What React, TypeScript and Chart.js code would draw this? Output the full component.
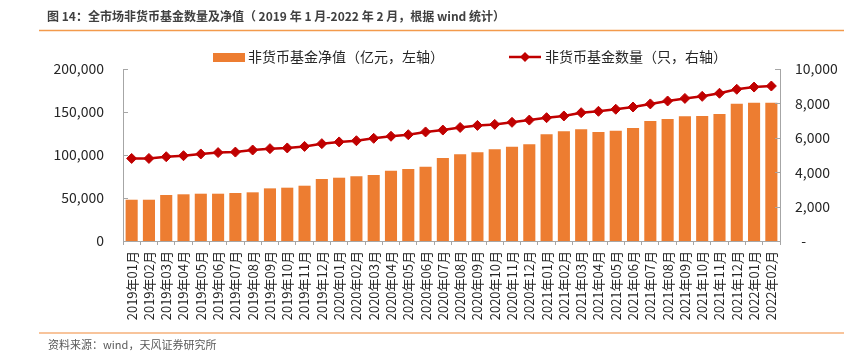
import React, { useEffect, useRef } from "react";
import { Chart, registerables } from "chart.js";

Chart.register(...registerables);

const categories = [
  "2019年01月", "2019年02月", "2019年03月", "2019年04月", "2019年05月", "2019年06月",
  "2019年07月", "2019年08月", "2019年09月", "2019年10月", "2019年11月", "2019年12月",
  "2020年01月", "2020年02月", "2020年03月", "2020年04月", "2020年05月", "2020年06月",
  "2020年07月", "2020年08月", "2020年09月", "2020年10月", "2020年11月", "2020年12月",
  "2021年01月", "2021年02月", "2021年03月", "2021年04月", "2021年05月", "2021年06月",
  "2021年07月", "2021年08月", "2021年09月", "2021年10月", "2021年11月", "2021年12月",
  "2022年01月", "2022年02月",
];

const netValue = [
  48000, 48000, 53500, 54300, 55000, 55000, 55800, 56600, 61200, 62000, 64300, 72100,
  73600, 75200, 76700, 81700, 83700, 86400, 96500, 100800, 103100, 106600, 109700, 112400,
  124000, 127500, 129800, 126700, 128300, 131400, 139500, 141900, 145000, 145300, 147700, 159700,
  160800, 160800,
];

const fundCount = [
  4800, 4800, 4900, 4960, 5060, 5140, 5170, 5290, 5370, 5410, 5500, 5660,
  5760, 5830, 5970, 6090, 6180, 6340, 6450, 6600, 6720, 6780, 6900, 7030,
  7170, 7270, 7460, 7540, 7660, 7790, 7970, 8140, 8290, 8410, 8590, 8820,
  8950, 9010,
];

const leftTicks = ["0", "50,000", "100,000", "150,000", "200,000"];
const rightTicks = ["-", "2,000", "4,000", "6,000", "8,000", "10,000"];

const titleText = "图 14：全市场非货币基金数量及净值（ 2019 年 1 月-2022 年 2 月，根据 wind 统计）";
const sourceText = "资料来源：wind，天风证券研究所";
const barLabel = "非货币基金净值（亿元，左轴）";
const lineLabel = "非货币基金数量（只，右轴）";

const FONT = '"Noto Sans CJK SC", "Microsoft YaHei", sans-serif';
const BAR_COLOR = "#ED7D31";
const LINE_COLOR = "#C00000";
const AXIS_COLOR = "#A6A6A6";
const TEXT_COLOR = "#262626";

const W = 865;
const H = 351;
const AREA_LEFT = 123;
const AREA_RIGHT = 780;
const AREA_TOP = 69;
const AREA_BOTTOM = 241;

const decoPlugin = {
  id: "deco",
  afterDraw(chart: any) {
    const ctx = chart.ctx as CanvasRenderingContext2D;
    ctx.save();
    // title
    ctx.font = `bold 12px ${FONT}`;
    ctx.fillStyle = "#404040";
    ctx.textBaseline = "middle";
    ctx.textAlign = "left";
    ctx.fillText(titleText, 47, 16);
    // top rule
    ctx.strokeStyle = "#F39A4C";
    ctx.lineWidth = 1.5;
    ctx.beginPath();
    ctx.moveTo(39, 30.5);
    ctx.lineTo(844, 30.5);
    ctx.stroke();
    // bottom rule
    ctx.strokeStyle = "#F8C49B";
    ctx.lineWidth = 2;
    ctx.beginPath();
    ctx.moveTo(39, 333);
    ctx.lineTo(844, 333);
    ctx.stroke();
    // source
    ctx.font = `11px ${FONT}`;
    ctx.fillStyle = "#595959";
    ctx.fillText(sourceText, 48, 345);

    // legend
    const ly = 57;
    ctx.fillStyle = BAR_COLOR;
    ctx.fillRect(213, ly - 4, 32, 9);
    ctx.font = `14px ${FONT}`;
    ctx.fillStyle = TEXT_COLOR;
    ctx.fillText(barLabel, 248, ly);

    ctx.strokeStyle = LINE_COLOR;
    ctx.lineWidth = 2.5;
    ctx.beginPath();
    ctx.moveTo(509, ly);
    ctx.lineTo(541, ly);
    ctx.stroke();
    ctx.fillStyle = LINE_COLOR;
    ctx.beginPath();
    ctx.moveTo(525, ly - 5);
    ctx.lineTo(530, ly);
    ctx.lineTo(525, ly + 5);
    ctx.lineTo(520, ly);
    ctx.closePath();
    ctx.fill();
    ctx.fillStyle = TEXT_COLOR;
    ctx.fillText(lineLabel, 545, ly);

    // inward tick marks on y axes
    const yl = chart.scales.y;
    const yr = chart.scales.y1;
    ctx.strokeStyle = AXIS_COLOR;
    ctx.lineWidth = 1;
    yl.ticks.forEach((t: any) => {
      const p = Math.round(yl.getPixelForValue(t.value)) + 0.5;
      ctx.beginPath();
      ctx.moveTo(chart.chartArea.left, p);
      ctx.lineTo(chart.chartArea.left + 5, p);
      ctx.stroke();
    });
    yr.ticks.forEach((t: any) => {
      const p = Math.round(yr.getPixelForValue(t.value)) + 0.5;
      ctx.beginPath();
      ctx.moveTo(chart.chartArea.right, p);
      ctx.lineTo(chart.chartArea.right - 5, p);
      ctx.stroke();
    });
    ctx.restore();
  },
};

export default function App() {
  const ref = useRef<HTMLCanvasElement | null>(null);

  useEffect(() => {
    if (!ref.current) return;
    const chart = new Chart(ref.current, {
      type: "bar",
      data: {
        labels: categories,
        datasets: [
          {
            type: "line",
            label: lineLabel,
            data: fundCount,
            yAxisID: "y1",
            borderColor: LINE_COLOR,
            backgroundColor: LINE_COLOR,
            borderWidth: 2.5,
            pointStyle: "rectRot",
            pointRadius: 5,
            pointBackgroundColor: LINE_COLOR,
            pointBorderColor: LINE_COLOR,
            pointBorderWidth: 1,
            tension: 0,
            order: 0,
          } as any,
          {
            type: "bar",
            label: barLabel,
            data: netValue,
            yAxisID: "y",
            backgroundColor: BAR_COLOR,
            borderWidth: 0,
            barPercentage: 0.7,
            categoryPercentage: 1.0,
            order: 1,
          },
        ],
      },
      options: {
        responsive: false,
        animation: false,
        devicePixelRatio: 1,
        layout: { padding: { top: AREA_TOP, left: 0, right: 0, bottom: 0 } },
        plugins: {
          legend: { display: false },
          tooltip: { enabled: false },
          title: { display: false },
        },
        scales: {
          x: {
            offset: true,
            grid: {
              display: true,
              offset: true,
              drawOnChartArea: false,
              drawTicks: true,
              tickLength: 4,
              color: AXIS_COLOR,
            },
            border: { display: true, color: AXIS_COLOR, width: 1 },
            ticks: {
              autoSkip: false,
              minRotation: 90,
              maxRotation: 90,
              padding: 6,
              color: TEXT_COLOR,
              font: { family: FONT, size: 13 },
            },
            afterFit(scale: any) {
              scale.height = H - AREA_BOTTOM;
            },
          },
          y: {
            position: "left",
            min: 0,
            max: 200000,
            grid: { display: false, drawTicks: false },
            border: { display: true, color: AXIS_COLOR, width: 1 },
            ticks: {
              stepSize: 50000,
              padding: 19,
              color: TEXT_COLOR,
              font: { family: FONT, size: 14 },
              callback: (_v: any, i: number) => leftTicks[i],
            },
            afterFit(scale: any) {
              scale.width = AREA_LEFT;
            },
          },
          y1: {
            position: "right",
            min: 0,
            max: 10000,
            grid: { display: false, drawTicks: false },
            border: { display: true, color: AXIS_COLOR, width: 1 },
            ticks: {
              stepSize: 2000,
              padding: 15,
              color: TEXT_COLOR,
              font: { family: FONT, size: 14 },
              callback: (_v: any, i: number) => (i === 0 ? "  -" : rightTicks[i]),
            },
            afterFit(scale: any) {
              scale.width = W - AREA_RIGHT;
            },
          },
        },
      },
      plugins: [decoPlugin],
    });
    return () => chart.destroy();
  }, []);

  return (
    <div style={{ position: "fixed", left: 0, top: 0, width: W, height: H, background: "#fff" }}>
      <canvas ref={ref} width={W} height={H} style={{ width: W, height: H, display: "block" }} />
    </div>
  );
}
